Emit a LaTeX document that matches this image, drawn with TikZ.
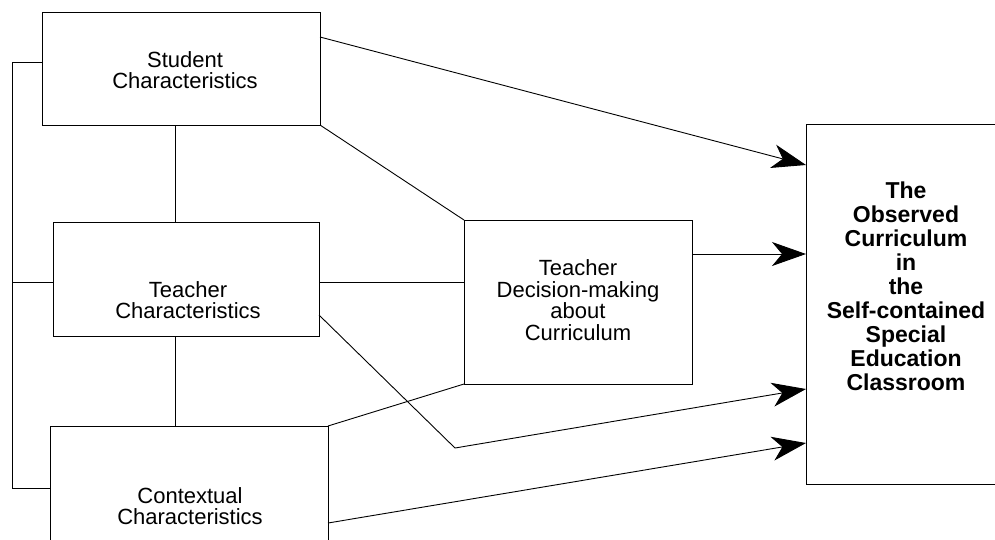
\documentclass[tikz,border=0pt]{standalone}
\usepackage{fontspec}
\setmainfont{Liberation Sans}
\usetikzlibrary{arrows.meta}
\begin{document}
\begin{tikzpicture}[x=1pt,y=-1pt,line width=0.9pt,
  box/.style={draw,anchor=north west,inner sep=0pt,outer sep=0pt},
  lbl/.style={align=center,font=\fontsize{22}{21.5}\selectfont},
  big/.style={-{Stealth[length=34pt,width=24pt,inset=10pt]}}]
\clip (0,0) rectangle (995,539);
\node[box,minimum width=278pt,minimum height=113pt] (st) at (42,12) {};
\node[lbl] (stl) at (185,70) {Student\\Characteristics};
\node[box,minimum width=266pt,minimum height=114pt] (te) at (53,222) {};
\node[lbl] (tel) at (188,300) {Teacher\\Characteristics};
\node[box,minimum width=278pt,minimum height=150pt] (co) at (50,426) {};
\node[lbl] (col) at (190,506) {Contextual\\Characteristics};
\node[box,minimum width=228pt,minimum height=164pt] (dm) at (464,220) {};
\node[lbl] (dml) at (578,300) {Teacher\\Decision-making\\about\\Curriculum};
\node[box,minimum width=250pt,minimum height=360pt] (oc) at (806,124) {};
\node[lbl,font=\fontsize{23}{24}\selectfont\bfseries] (ocl) at (906,286)
  {The\\Observed\\Curriculum\\in\\the\\Self-contained\\Special\\Education\\Classroom};
\coordinate (b1) at (12,62);
\coordinate (b2) at (12,282);
\coordinate (b3) at (12,488);
\coordinate (bend) at (455,448);
\draw (st.west |- b1) -- (b1) -- (b3) -- (co.west |- b3);
\draw (b2) -- (te.west |- b2);
\draw (st.south -| 175,0) -- (te.north -| 175,0);
\draw (te.south -| 175,0) -- (co.north -| 175,0);
\draw (st.south east) -- (dm.north west);
\draw (te.east |- 0,282) -- (dm.west |- 0,282);
\draw (co.north east) -- (dm.south west);
\draw[big] ([yshift=-25pt]st.north east) -- (oc.west |- 0,165);
\draw[big] (dm.east |- 0,254) -- (oc.west |- 0,254);
\draw[big] ([yshift=-93pt]te.north east) -- (bend) -- (oc.west |- 0,389);
\draw[big] ([yshift=-97pt]co.north east) -- (oc.west |- 0,443);
\end{tikzpicture}
\end{document}
